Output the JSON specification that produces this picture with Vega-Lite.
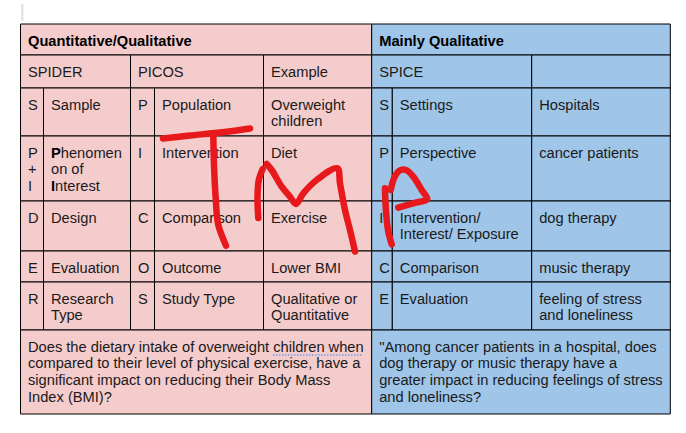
{
  "$schema": "https://vega.github.io/schema/vega-lite/v6.json",
  "width": 686,
  "height": 433,
  "autosize": {"type": "fit", "contains": "padding"},
  "padding": 0,
  "background": "white",
  "config": {"view": {"stroke": null}},
  "datasets": {
    "cells": [
      {"x": 20.5, "x2": 371.7, "y": 24, "y2": 55, "side": "quant", "t": "Quantitative/Qualitative", "b": 1},
      {"x": 20.5, "x2": 130.5, "y": 55, "y2": 88, "side": "quant", "t": "SPIDER", "b": 0},
      {"x": 130.5, "x2": 263.5, "y": 55, "y2": 88, "side": "quant", "t": "PICOS", "b": 0},
      {"x": 263.5, "x2": 371.7, "y": 55, "y2": 88, "side": "quant", "t": "Example", "b": 0},
      {"x": 20.5, "x2": 43.5, "y": 88, "y2": 136, "side": "quant", "t": "S", "b": 0},
      {"x": 43.5, "x2": 130.5, "y": 88, "y2": 136, "side": "quant", "t": "Sample", "b": 0},
      {"x": 130.5, "x2": 154.5, "y": 88, "y2": 136, "side": "quant", "t": "P", "b": 0},
      {"x": 154.5, "x2": 263.5, "y": 88, "y2": 136, "side": "quant", "t": "Population", "b": 0},
      {"x": 263.5, "x2": 371.7, "y": 88, "y2": 136, "side": "quant", "t": "Overweight\nchildren", "b": 0},
      {"x": 20.5, "x2": 43.5, "y": 136, "y2": 201, "side": "quant", "t": "P\n+\nI", "b": 0},
      {"x": 43.5, "x2": 130.5, "y": 136, "y2": 201, "side": "quant", "t": "", "b": 0},
      {"x": 130.5, "x2": 154.5, "y": 136, "y2": 201, "side": "quant", "t": "I", "b": 0},
      {"x": 154.5, "x2": 263.5, "y": 136, "y2": 201, "side": "quant", "t": "Intervention", "b": 0},
      {"x": 263.5, "x2": 371.7, "y": 136, "y2": 201, "side": "quant", "t": "Diet", "b": 0},
      {"x": 20.5, "x2": 43.5, "y": 201, "y2": 251, "side": "quant", "t": "D", "b": 0},
      {"x": 43.5, "x2": 130.5, "y": 201, "y2": 251, "side": "quant", "t": "Design", "b": 0},
      {"x": 130.5, "x2": 154.5, "y": 201, "y2": 251, "side": "quant", "t": "C", "b": 0},
      {"x": 154.5, "x2": 263.5, "y": 201, "y2": 251, "side": "quant", "t": "Comparison", "b": 0},
      {"x": 263.5, "x2": 371.7, "y": 201, "y2": 251, "side": "quant", "t": "Exercise", "b": 0},
      {"x": 20.5, "x2": 43.5, "y": 251, "y2": 282, "side": "quant", "t": "E", "b": 0},
      {"x": 43.5, "x2": 130.5, "y": 251, "y2": 282, "side": "quant", "t": "Evaluation", "b": 0},
      {"x": 130.5, "x2": 154.5, "y": 251, "y2": 282, "side": "quant", "t": "O", "b": 0},
      {"x": 154.5, "x2": 263.5, "y": 251, "y2": 282, "side": "quant", "t": "Outcome", "b": 0},
      {"x": 263.5, "x2": 371.7, "y": 251, "y2": 282, "side": "quant", "t": "Lower BMI", "b": 0},
      {"x": 20.5, "x2": 43.5, "y": 282, "y2": 330, "side": "quant", "t": "R", "b": 0},
      {"x": 43.5, "x2": 130.5, "y": 282, "y2": 330, "side": "quant", "t": "Research\nType", "b": 0},
      {"x": 130.5, "x2": 154.5, "y": 282, "y2": 330, "side": "quant", "t": "S", "b": 0},
      {"x": 154.5, "x2": 263.5, "y": 282, "y2": 330, "side": "quant", "t": "Study Type", "b": 0},
      {"x": 263.5, "x2": 371.7, "y": 282, "y2": 330, "side": "quant", "t": "Qualitative or\nQuantitative", "b": 0},
      {"x": 20.5, "x2": 371.7, "y": 330, "y2": 414, "side": "quant", "t": "Does the dietary intake of overweight children when\ncompared to their level of physical exercise, have a\nsignificant impact on reducing their Body Mass\nIndex (BMI)?", "b": 0},
      {"x": 371.7, "x2": 670.3, "y": 24, "y2": 55, "side": "qual", "t": "Mainly Qualitative", "b": 1},
      {"x": 371.7, "x2": 531.7, "y": 55, "y2": 88, "side": "qual", "t": "SPICE", "b": 0},
      {"x": 531.7, "x2": 670.3, "y": 55, "y2": 88, "side": "qual", "t": "", "b": 0},
      {"x": 371.7, "x2": 392.3, "y": 88, "y2": 136, "side": "qual", "t": "S", "b": 0},
      {"x": 392.3, "x2": 531.7, "y": 88, "y2": 136, "side": "qual", "t": "Settings", "b": 0},
      {"x": 531.7, "x2": 670.3, "y": 88, "y2": 136, "side": "qual", "t": "Hospitals", "b": 0},
      {"x": 371.7, "x2": 392.3, "y": 136, "y2": 201, "side": "qual", "t": "P", "b": 0},
      {"x": 392.3, "x2": 531.7, "y": 136, "y2": 201, "side": "qual", "t": "Perspective", "b": 0},
      {"x": 531.7, "x2": 670.3, "y": 136, "y2": 201, "side": "qual", "t": "cancer patients", "b": 0},
      {"x": 371.7, "x2": 392.3, "y": 201, "y2": 251, "side": "qual", "t": "I", "b": 0},
      {"x": 392.3, "x2": 531.7, "y": 201, "y2": 251, "side": "qual", "t": "Intervention/\nInterest/ Exposure", "b": 0},
      {"x": 531.7, "x2": 670.3, "y": 201, "y2": 251, "side": "qual", "t": "dog therapy", "b": 0},
      {"x": 371.7, "x2": 392.3, "y": 251, "y2": 282, "side": "qual", "t": "C", "b": 0},
      {"x": 392.3, "x2": 531.7, "y": 251, "y2": 282, "side": "qual", "t": "Comparison", "b": 0},
      {"x": 531.7, "x2": 670.3, "y": 251, "y2": 282, "side": "qual", "t": "music therapy", "b": 0},
      {"x": 371.7, "x2": 392.3, "y": 282, "y2": 330, "side": "qual", "t": "E", "b": 0},
      {"x": 392.3, "x2": 531.7, "y": 282, "y2": 330, "side": "qual", "t": "Evaluation", "b": 0},
      {"x": 531.7, "x2": 670.3, "y": 282, "y2": 330, "side": "qual", "t": "feeling of stress\nand loneliness", "b": 0},
      {"x": 371.7, "x2": 670.3, "y": 330, "y2": 414, "side": "qual", "t": "\"Among cancer patients in a hospital, does\ndog therapy or music therapy have a\ngreater impact in reducing feelings of stress\nand loneliness?", "b": 0}
    ],
    "pieces": [
      {"x": 43.5, "y": 136, "t": "P", "b": 1},
      {"x": 53.3, "y": 136, "t": "henomen", "b": 0},
      {"x": 43.5, "y": 152.9, "t": "on of", "b": 0},
      {"x": 43.5, "y": 169.8, "t": "I", "b": 1},
      {"x": 47.6, "y": 169.8, "t": "nterest", "b": 0}
    ],
    "ink": [
      {"s": "T1", "i": 0, "x": 163, "y": 138.5},
      {"s": "T1", "i": 1, "x": 190, "y": 135.5},
      {"s": "T1", "i": 2, "x": 215, "y": 133},
      {"s": "T1", "i": 3, "x": 240, "y": 130},
      {"s": "T1", "i": 4, "x": 250, "y": 128.5},
      {"s": "T2", "i": 0, "x": 213.3, "y": 135},
      {"s": "T2", "i": 1, "x": 214, "y": 165},
      {"s": "T2", "i": 2, "x": 215.7, "y": 198},
      {"s": "T2", "i": 3, "x": 218.3, "y": 225},
      {"s": "T2", "i": 4, "x": 226, "y": 245.7},
      {"s": "M1", "i": 0, "x": 262.7, "y": 169},
      {"s": "M1", "i": 1, "x": 258.8, "y": 180},
      {"s": "M1", "i": 2, "x": 257.5, "y": 197},
      {"s": "M1", "i": 3, "x": 258.3, "y": 218},
      {"s": "M2", "i": 0, "x": 266.7, "y": 164},
      {"s": "M2", "i": 1, "x": 271.7, "y": 170},
      {"s": "M2", "i": 2, "x": 281.7, "y": 186.7},
      {"s": "M2", "i": 3, "x": 290, "y": 196.7},
      {"s": "M2", "i": 4, "x": 296, "y": 204},
      {"s": "M2", "i": 5, "x": 303.3, "y": 193.3},
      {"s": "M2", "i": 6, "x": 316.7, "y": 180},
      {"s": "M2", "i": 7, "x": 337.3, "y": 168.3},
      {"s": "M2", "i": 8, "x": 340, "y": 183.3},
      {"s": "M2", "i": 9, "x": 345, "y": 210},
      {"s": "M2", "i": 10, "x": 350, "y": 230},
      {"s": "M2", "i": 11, "x": 355, "y": 251.5},
      {"s": "P1", "i": 0, "x": 385, "y": 188.3},
      {"s": "P1", "i": 1, "x": 386, "y": 211.7},
      {"s": "P1", "i": 2, "x": 388.3, "y": 231.7},
      {"s": "P1", "i": 3, "x": 391.7, "y": 244.3},
      {"s": "P2", "i": 0, "x": 390.7, "y": 190},
      {"s": "P2", "i": 1, "x": 394, "y": 178.3},
      {"s": "P2", "i": 2, "x": 399.3, "y": 170.7},
      {"s": "P2", "i": 3, "x": 406, "y": 170},
      {"s": "P2", "i": 4, "x": 413.3, "y": 176.7},
      {"s": "P2", "i": 5, "x": 421.7, "y": 190},
      {"s": "P2", "i": 6, "x": 427.3, "y": 199.3},
      {"s": "P2", "i": 7, "x": 416.7, "y": 202.3},
      {"s": "P2", "i": 8, "x": 398.3, "y": 207.7}
    ],
    "squiggle": [{"x": 273, "x2": 363, "y": 355}],
    "cursor": [{"x": 22.3, "y": 4, "y2": 21}]
  },
  "layer": [
    {
      "data": {"name": "cursor"},
      "mark": {"type": "rule", "color": "#e3e3e3", "strokeWidth": 2.5},
      "encoding": {
        "x": {"field": "x", "type": "quantitative", "scale": {"domain": [0, 686], "nice": false, "zero": false}, "axis": null},
        "y": {"field": "y", "type": "quantitative", "scale": {"domain": [0, 433], "reverse": true, "nice": false, "zero": false}, "axis": null},
        "y2": {"field": "y2"}
      }
    },
    {
      "data": {"name": "cells"},
      "mark": {"type": "rect", "stroke": "#000000", "strokeWidth": 1},
      "encoding": {
        "x": {"field": "x", "type": "quantitative"},
        "x2": {"field": "x2"},
        "y": {"field": "y", "type": "quantitative"},
        "y2": {"field": "y2"},
        "fill": {"field": "side", "type": "nominal", "scale": {"domain": ["quant", "qual"], "range": ["#f4cccc", "#9fc5e8"]}, "legend": null}
      }
    },
    {
      "data": {"name": "cells"},
      "transform": [{"filter": "datum.b == 0"}],
      "mark": {"type": "text", "align": "left", "baseline": "top", "dx": 7.5, "dy": 9.5, "font": "Liberation Sans", "fontSize": 14.67, "lineHeight": 16.9, "lineBreak": "\n", "color": "#1a1a1a"},
      "encoding": {
        "x": {"field": "x", "type": "quantitative"},
        "y": {"field": "y", "type": "quantitative"},
        "text": {"field": "t"}
      }
    },
    {
      "data": {"name": "cells"},
      "transform": [{"filter": "datum.b == 1"}],
      "mark": {"type": "text", "align": "left", "baseline": "top", "dx": 7.5, "dy": 9.5, "font": "Liberation Sans", "fontSize": 14.67, "fontWeight": "bold", "color": "#000000"},
      "encoding": {
        "x": {"field": "x", "type": "quantitative"},
        "y": {"field": "y", "type": "quantitative"},
        "text": {"field": "t"}
      }
    },
    {
      "data": {"name": "pieces"},
      "transform": [{"filter": "datum.b == 0"}],
      "mark": {"type": "text", "align": "left", "baseline": "top", "dx": 7.5, "dy": 9.5, "font": "Liberation Sans", "fontSize": 14.67, "color": "#1a1a1a"},
      "encoding": {
        "x": {"field": "x", "type": "quantitative"},
        "y": {"field": "y", "type": "quantitative"},
        "text": {"field": "t"}
      }
    },
    {
      "data": {"name": "pieces"},
      "transform": [{"filter": "datum.b == 1"}],
      "mark": {"type": "text", "align": "left", "baseline": "top", "dx": 7.5, "dy": 9.5, "font": "Liberation Sans", "fontSize": 14.67, "fontWeight": "bold", "color": "#000000"},
      "encoding": {
        "x": {"field": "x", "type": "quantitative"},
        "y": {"field": "y", "type": "quantitative"},
        "text": {"field": "t"}
      }
    },
    {
      "data": {"name": "squiggle"},
      "mark": {"type": "rule", "color": "#6d9eeb", "strokeWidth": 1.5, "strokeDash": [1.5, 1.5]},
      "encoding": {
        "x": {"field": "x", "type": "quantitative"},
        "x2": {"field": "x2"},
        "y": {"field": "y", "type": "quantitative"}
      }
    },
    {
      "data": {"name": "ink"},
      "mark": {"type": "line", "interpolate": "catmull-rom", "color": "#e8191c", "strokeWidth": 6.5, "strokeCap": "round", "strokeJoin": "round"},
      "encoding": {
        "x": {"field": "x", "type": "quantitative"},
        "y": {"field": "y", "type": "quantitative"},
        "detail": {"field": "s"},
        "order": {"field": "i", "type": "quantitative"}
      }
    }
  ]
}
